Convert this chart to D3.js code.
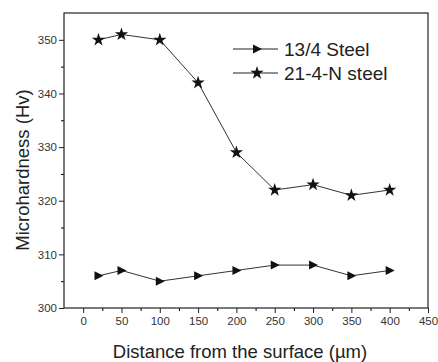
<!DOCTYPE html>
<html>
<head>
<meta charset="utf-8">
<script src="https://cdn.jsdelivr.net/npm/d3@7"></script>
<style>
  body { margin: 0; background: #fff; }
  text { font-family: "Liberation Sans", Arial, sans-serif; fill: #222; }
</style>
</head>
<body>
<div id="chart"></div>
<script>
// distances from the surface (µm)
const distances = [20, 50, 100, 150, 200, 250, 300, 350, 400];
// microhardness (Hv)
const steel134 = [306, 307, 305, 306, 307, 308, 308, 306, 307];
const steel214N = [350, 351, 350, 342, 329, 322, 323, 321, 322];
const seriesNames = ['13/4 Steel', '21-4-N steel'];
const xTicks = [0, 50, 100, 150, 200, 250, 300, 350, 400, 450];
const yTicks = [300, 310, 320, 330, 340, 350];

const W = 438, H = 362;
const margin = { top: 13, right: 10, bottom: 54, left: 64 };
const width = W - margin.left - margin.right;
const height = H - margin.top - margin.bottom;

const svg = d3.select('#chart').append('svg')
    .attr('width', W).attr('height', H);
const g = svg.append('g')
    .attr('transform', `translate(${margin.left},${margin.top})`);

const x = d3.scaleLinear().domain([-25, 450]).range([0, width]);
const y = d3.scaleLinear().domain([300, 355]).range([height, 0]);

// minor ticks
g.append('g')
    .attr('transform', `translate(0,${height})`)
    .call(d3.axisBottom(x).tickValues(d3.range(25, 450, 50)).tickSize(3).tickFormat(''))
    .call(a => a.select('.domain').remove());
g.append('g')
    .call(d3.axisLeft(y).tickValues(d3.range(305, 355, 10)).tickSize(3).tickFormat(''))
    .call(a => a.select('.domain').remove());

// major axes
const xAxis = g.append('g')
    .attr('transform', `translate(0,${height})`)
    .call(d3.axisBottom(x).tickValues(xTicks).tickSize(5).tickPadding(4));
const yAxis = g.append('g')
    .call(d3.axisLeft(y).tickValues(yTicks).tickSize(5).tickPadding(2));
[xAxis, yAxis].forEach(a => {
    a.selectAll('text').style('font-size', '11.5px').style('fill', '#333');
    a.selectAll('line').attr('stroke', '#222');
    a.select('.domain').remove();
});

// frame
g.append('rect')
    .attr('width', width).attr('height', height)
    .attr('fill', 'none').attr('stroke', '#222').attr('stroke-width', 1.2);

const line = d3.line().x(d => x(d[0])).y(d => y(d[1]));
const star = d3.symbol().type(d3.symbolStar).size(55);
const tri = 'M-4,-4.5L5,0L-4,4.5Z';

function drawSeries(vals, marker) {
    const pts = distances.map((d, i) => [d, vals[i]]);
    g.append('path').datum(pts)
        .attr('d', line)
        .attr('fill', 'none')
        .attr('stroke', '#333')
        .attr('stroke-width', 1);
    g.selectAll(null).data(pts).enter().append('path')
        .attr('transform', d => `translate(${x(d[0])},${y(d[1])})`)
        .attr('d', marker)
        .attr('fill', '#111');
}
drawSeries(steel134, tri);
drawSeries(steel214N, star());

// legend
const legend = svg.append('g').attr('transform', 'translate(233,49)');
[tri, star()].forEach((m, i) => {
    const row = legend.append('g').attr('transform', `translate(0,${i * 24})`);
    row.append('line').attr('x1', 0).attr('x2', 45)
        .attr('stroke', '#222').attr('stroke-width', 1.2);
    row.append('path').attr('d', m).attr('transform', 'translate(24,0)').attr('fill', '#111');
    row.append('text').attr('x', 51).attr('dy', '0.36em')
        .style('font-size', '19px')
        .text(seriesNames[i]);
});

// axis titles
svg.append('text')
    .attr('x', 240).attr('y', 358)
    .attr('text-anchor', 'middle')
    .style('font-size', '18.5px')
    .text('Distance from the surface (µm)');
svg.append('text')
    .attr('transform', 'translate(29,170) rotate(-90)')
    .attr('text-anchor', 'middle')
    .style('font-size', '18.5px')
    .text('Microhardness (Hv)');
</script>
</body>
</html>
